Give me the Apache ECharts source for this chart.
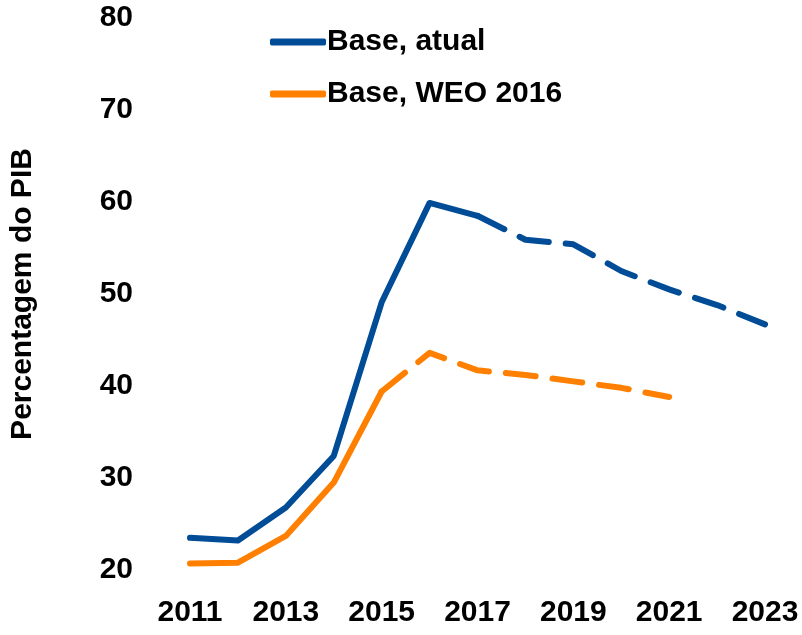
<!DOCTYPE html>
<html>
<head>
<meta charset="utf-8">
<script src="https://cdn.jsdelivr.net/npm/echarts@6/dist/echarts.min.js"></script>
<style>
  html, body { margin: 0; padding: 0; background: #fff; }
  #chart { width: 802px; height: 635px; }
</style>
</head>
<body>
<div id="chart"></div>
<script>
// dados
var years = ["2011", "2012", "2013", "2014", "2015", "2016", "2017",
             "2018", "2019", "2020", "2021", "2022", "2023"];
var baseAtual = [23.5, 23.2, 26.8, 32.4, 49.1, 59.9, 58.5, 55.9, 55.4, 52.5, 50.5, 48.8, 46.7];
var baseWeo = [20.7, 20.8, 23.7, 29.5, 39.4, 43.6, 41.7, 41.2, 40.5, 39.8, 38.8, null, null];
var yTicks = [20, 30, 40, 50, 60, 70, 80];

// ano em que a linha passa a ser tracejada (projeção)
var atualSplit = years.indexOf("2017");
var weoSplit = years.indexOf("2015");

function solidPart(arr, k) {
  return arr.map(function (v, i) { return i <= k ? v : null; });
}
function dashedPart(arr, k) {
  return arr.map(function (v, i) { return i >= k ? v : null; });
}

var blue = "#004c97";
var orange = "#ff8000";
var font = "'Liberation Sans Narrow', 'Arial Narrow', 'Liberation Sans', Arial, sans-serif";

var chart = echarts.init(document.getElementById("chart"));
chart.setOption({
  animation: false,
  textStyle: { fontFamily: font },
  grid: { left: 189, right: 37, top: 18, bottom: 65, containLabel: false },
  legend: {
    orient: "vertical",
    left: 265,
    top: 19,
    itemWidth: 56,
    itemHeight: 7,
    itemGap: 16,
    data: [
      { name: "Base, atual", icon: "roundRect", itemStyle: { color: blue } },
      { name: "Base, WEO 2016", icon: "roundRect", itemStyle: { color: orange } }
    ],
    textStyle: { fontSize: 30, fontWeight: "bold", color: "#000", fontFamily: font, lineHeight: 36, padding: [0, 0, 0, -4] }
  },
  xAxis: {
    type: "category",
    data: years,
    boundaryGap: false,
    axisLine: { show: false },
    axisTick: { show: false },
    axisLabel: { interval: 1, margin: 28, fontSize: 30, fontWeight: "bold", color: "#000", fontFamily: font }
  },
  yAxis: {
    type: "value",
    min: yTicks[0],
    max: yTicks[yTicks.length - 1],
    interval: 10,
    name: "Percentagem do PIB",
    nameLocation: "middle",
    nameGap: 152,
    nameTextStyle: { fontSize: 30, fontWeight: "bold", color: "#000", fontFamily: font },
    axisLine: { show: false },
    axisTick: { show: false },
    splitLine: { show: false },
    axisLabel: { margin: 57, fontSize: 30, fontWeight: "bold", color: "#000", fontFamily: font }
  },
  series: [
    {
      name: "Base, atual",
      type: "line",
      data: solidPart(baseAtual, atualSplit),
      symbol: "none",
      color: blue,
      lineStyle: { width: 6, color: blue, cap: "round", join: "round" }
    },
    {
      name: "Base, atual (proj.)",
      type: "line",
      data: dashedPart(baseAtual, atualSplit),
      symbol: "none",
      color: blue,
      lineStyle: { width: 6, color: blue, type: [30, 17], cap: "round", join: "round" }
    },
    {
      name: "Base, WEO 2016",
      type: "line",
      data: solidPart(baseWeo, weoSplit),
      symbol: "none",
      color: orange,
      lineStyle: { width: 6, color: orange, cap: "round", join: "round" }
    },
    {
      name: "Base, WEO 2016 (proj.)",
      type: "line",
      data: dashedPart(baseWeo, weoSplit),
      symbol: "none",
      color: orange,
      lineStyle: { width: 6, color: orange, type: [30, 17], cap: "round", join: "round" }
    }
  ]
});
</script>
</body>
</html>
